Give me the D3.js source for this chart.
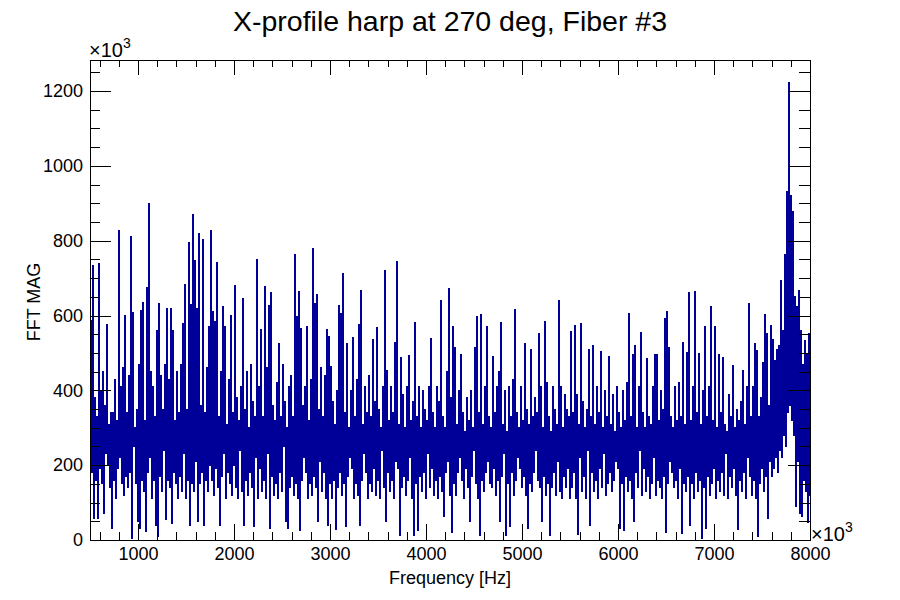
<!DOCTYPE html>
<html>
<head>
<meta charset="utf-8">
<script src="https://cdn.jsdelivr.net/npm/d3@7"></script>
<style>
  html, body { margin: 0; padding: 0; background: #fff; }
  svg { display: block; }
  text { font-family: "Liberation Sans", Arial, Helvetica, sans-serif; fill: #000; }
</style>
</head>
<body>
<svg id="chart" width="900" height="600"></svg>
<script>
// ---- Data (values in units of 10^3) ----
const title = "X-profile harp at 270 deg, Fiber #3";
const xTitle = "Frequency [Hz]";
const yTitle = "FFT MAG";
const freqRange = [500, 8000];          // x axis range (x10^3 Hz)
const magMax = 1283;                    // y axis top (x10^3)
const xTickLabels = [1000, 2000, 3000, 4000, 5000, 6000, 7000, 8000];
const yTickLabels = [0, 200, 400, 600, 800, 1000, 1200];

// per-column maximum / minimum of the FFT magnitude (60 columns per 1250 Hz block)
const hi500 = [588,735,380,330,740,400,450,360,575,310,340,340,430,320,826,410,460,600,340,440,812,608,300,350,470,613,634,320,675,900,450,410,330,560,632,440,350,470,619,430,619,560,320,450,340,470,580,684,350,795,630,871,748,620,818,360,802,340,460,572];
const lo500 = [180,58,160,58,190,150,71,230,200,140,31,160,110,190,220,150,120,170,140,180,5,250,150,50,31,160,130,22,180,220,110,160,40,9,170,130,240,55,160,140,45,180,150,110,170,130,230,110,160,40,150,130,210,50,150,180,40,160,130,200];
const hi1750 = [828,610,585,741,330,450,624,570,310,430,601,340,679,380,320,410,645,350,450,300,470,370,330,751,410,563,330,677,460,628,661,360,320,420,525,330,470,370,300,410,440,330,762,597,664,566,360,410,572,320,430,778,631,657,350,460,330,440,563,543];
const lo1750 = [160,120,190,140,40,170,230,110,180,150,120,200,140,110,240,130,40,160,120,180,140,35,220,110,190,130,160,110,230,30,170,120,150,110,180,130,250,50,30,140,170,120,150,110,25,160,220,180,110,150,120,170,140,50,210,130,180,110,40,150];
const hi3000 = [465,370,310,400,628,606,711,340,525,300,400,541,330,430,576,668,310,410,340,440,330,536,370,568,350,300,410,720,454,320,410,340,527,744,310,488,390,300,410,492,320,370,581,330,410,300,400,350,320,410,539,340,300,410,370,640,330,300,450,672];
const lo3000 = [110,160,27,140,180,120,150,35,170,220,190,110,150,120,40,160,230,180,110,150,130,190,120,160,110,240,140,50,180,130,160,110,210,190,13,140,170,120,160,220,110,13,150,25,170,130,180,110,230,140,190,120,160,110,170,130,62,180,210,120];
const hi4250 = [380,570,515,310,400,497,340,290,380,320,400,300,515,597,340,604,310,410,570,330,300,490,340,410,450,581,310,400,290,410,330,430,615,340,300,410,320,524,350,310,508,330,380,340,552,410,300,584,420,330,290,410,350,310,640,410,300,390,350,330];
const lo4250 = [20,150,120,180,220,160,110,190,140,50,170,240,150,110,13,160,130,180,210,150,140,190,120,160,50,170,230,13,150,35,180,120,160,220,190,140,170,120,30,150,130,180,240,160,140,50,170,120,150,13,140,180,120,210,130,110,170,140,190,110];
const hi5500 = [557,340,574,390,310,579,370,300,350,510,330,519,310,410,340,503,300,400,330,490,310,390,290,410,340,300,400,320,420,606,330,497,521,300,410,555,340,300,486,330,310,410,496,497,320,400,350,592,610,515,330,300,410,320,420,330,529,310,501,662];
const lo5500 = [140,180,110,15,220,130,170,110,240,40,180,130,160,110,190,140,230,120,150,180,130,160,210,190,30,150,25,170,130,160,110,50,180,140,240,120,190,130,170,110,150,220,120,160,140,110,170,20,150,210,180,140,160,110,190,18,150,130,170,40];
const hi6750 = [320,410,663,340,499,310,400,572,330,410,625,320,570,300,495,340,487,310,290,390,330,466,300,350,320,370,453,310,410,631,330,410,525,506,330,380,474,604,552,360,573,536,480,510,520,693,560,762,931,1224,920,877,650,625,666,560,469,533,495,552];
const lo6750 = [150,110,180,130,160,5,140,30,170,120,150,190,110,160,130,180,120,230,110,170,140,190,120,27,160,130,180,110,220,170,120,160,110,9,150,190,130,170,58,210,170,190,220,180,240,220,280,250,340,360,320,280,89,210,70,62,160,130,48,120];

const hiValues = [].concat(hi500, hi1750, hi3000, hi4250, hi5500, hi6750);
const loValues = [].concat(lo500, lo1750, lo3000, lo4250, lo5500, lo6750);

// ---- Layout ----
const svg = d3.select("#chart");
const L = 90, R = 810, T = 60, B = 540;
const x = d3.scaleLinear().domain(freqRange).range([L, R]);
const y = d3.scaleLinear().domain([0, magMax]).range([B, T]);

// histogram series: alternate max / min per column
const nPts = hiValues.length * 2;
const step = (freqRange[1] - freqRange[0]) / nPts;
const series = [];
hiValues.forEach((h, i) => {
  series.push([freqRange[0] + (2 * i) * step, h]);
  series.push([freqRange[0] + (2 * i + 1) * step, loValues[i]]);
});
series.push([freqRange[1], loValues[loValues.length - 1]]);

svg.append("defs").append("clipPath").attr("id", "frameClip")
  .append("rect").attr("x", L).attr("y", T).attr("width", R - L).attr("height", B - T);

svg.append("path")
  .datum(series)
  .attr("clip-path", "url(#frameClip)")
  .attr("fill", "none")
  .attr("stroke", "#000099")
  .attr("stroke-width", 1)
  .attr("shape-rendering", "crispEdges")
  .attr("d", d3.line().x(d => x(d[0])).y(d => y(d[1])).curve(d3.curveStepAfter));

// ---- Axes ----
const xMinor = d3.range(600, 8000, 200).filter(v => v % 1000 !== 0);
const yMinor = d3.range(50, 1283, 50).filter(v => v % 200 !== 0);
const yMajorAll = d3.range(0, 1283, 200);

function styleAxis(g) {
  g.select(".domain").remove();
  g.selectAll("line").attr("stroke", "#000").attr("shape-rendering", "crispEdges");
  g.selectAll("text").style("font-size", "18px").style("font-family", "'Liberation Sans', Arial, sans-serif");
}

// bottom
svg.append("g").attr("transform", `translate(0,${B})`)
  .call(d3.axisBottom(x).tickValues(xTickLabels).tickSizeInner(-16).tickSizeOuter(0).tickPadding(7).tickFormat(d3.format("d")))
  .call(styleAxis);
svg.append("g").attr("transform", `translate(0,${B})`)
  .call(d3.axisBottom(x).tickValues(xMinor).tickSizeInner(-8).tickSizeOuter(0).tickFormat(""))
  .call(styleAxis);
// top
svg.append("g").attr("transform", `translate(0,${T})`)
  .call(d3.axisTop(x).tickValues(xTickLabels).tickSizeInner(-15).tickSizeOuter(0).tickFormat(""))
  .call(styleAxis);
svg.append("g").attr("transform", `translate(0,${T})`)
  .call(d3.axisTop(x).tickValues(xMinor).tickSizeInner(-7).tickSizeOuter(0).tickFormat(""))
  .call(styleAxis);
// left
svg.append("g").attr("transform", `translate(${L},0)`)
  .call(d3.axisLeft(y).tickValues(yTickLabels).tickSizeInner(-21).tickSizeOuter(0).tickPadding(7).tickFormat(d3.format("d")))
  .call(styleAxis);
svg.append("g").attr("transform", `translate(${L},0)`)
  .call(d3.axisLeft(y).tickValues(yMinor).tickSizeInner(-10).tickSizeOuter(0).tickFormat(""))
  .call(styleAxis);
// right
svg.append("g").attr("transform", `translate(${R},0)`)
  .call(d3.axisRight(y).tickValues(yMajorAll).tickSizeInner(-22).tickSizeOuter(0).tickFormat(""))
  .call(styleAxis);
svg.append("g").attr("transform", `translate(${R},0)`)
  .call(d3.axisRight(y).tickValues(yMinor).tickSizeInner(-11).tickSizeOuter(0).tickFormat(""))
  .call(styleAxis);

// frame
svg.append("rect").attr("x", L).attr("y", T).attr("width", R - L).attr("height", B - T)
  .attr("fill", "none").attr("stroke", "#000").attr("stroke-width", 1).attr("shape-rendering", "crispEdges");

// ---- Texts ----
svg.append("text").attr("x", 450).attr("y", 31).attr("text-anchor", "middle")
  .style("font-size", "28.5px").text(title);

svg.append("text").attr("x", 450).attr("y", 584).attr("text-anchor", "middle")
  .style("font-size", "18px").text(xTitle);

svg.append("text").attr("transform", "translate(40,302) rotate(-90)").attr("text-anchor", "middle")
  .style("font-size", "18px").text(yTitle);

// exponent labels
function expLabel(px, py) {
  const t = svg.append("text").attr("x", px).attr("y", py).style("font-size", "20px");
  t.append("tspan").text("\u00d710");
  t.append("tspan").attr("dy", -9).style("font-size", "14px").text("3");
}
expLabel(89, 57);
expLabel(811, 541);
</script>
</body>
</html>
